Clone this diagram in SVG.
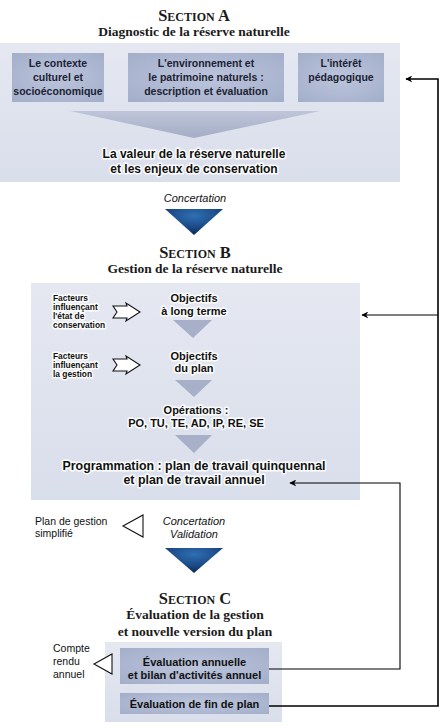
<svg xmlns="http://www.w3.org/2000/svg" width="442" height="728" viewBox="0 0 442 728">
<defs>
<linearGradient id="panel" x1="0" y1="0" x2="0" y2="1">
<stop offset="0" stop-color="#e5e8f1"/><stop offset="1" stop-color="#d9deeb"/>
</linearGradient>
<radialGradient id="box" cx="0.5" cy="0.5" r="0.7">
<stop offset="0" stop-color="#bcc5dc"/><stop offset="1" stop-color="#a3aeca"/>
</radialGradient>
<linearGradient id="bigtri" x1="0" y1="0" x2="0" y2="1">
<stop offset="0" stop-color="#bfc6da"/><stop offset="1" stop-color="#a4adc6"/>
</linearGradient>
<radialGradient id="dark" cx="0.5" cy="0.25" r="0.75">
<stop offset="0" stop-color="#2f6fb4"/><stop offset="0.6" stop-color="#1b4a86"/><stop offset="1" stop-color="#0d2550"/>
</radialGradient>
<marker id="ah" viewBox="0 0 10 10" refX="9" refY="5" markerWidth="7" markerHeight="7" orient="auto" markerUnits="userSpaceOnUse">
<path d="M0,0 L10,5 L0,10 L3,5 z" fill="#000"/>
</marker>
</defs>
<style>
.sec{font-family:"Liberation Serif",serif;font-weight:bold;font-variant:small-caps;font-size:16.5px;fill:#1a1a1a;text-anchor:middle}
.sub{font-family:"Liberation Serif",serif;font-weight:bold;font-size:13.5px;fill:#1a1a1a;text-anchor:middle}
.bx{font-family:"Liberation Sans",Arial,sans-serif;font-weight:bold;font-size:10.5px;fill:#1c2233;text-anchor:middle}
.big{font-family:"Liberation Sans",Arial,sans-serif;font-weight:bold;font-size:12px;fill:#111;text-anchor:middle}
.mid{font-family:"Liberation Sans",Arial,sans-serif;font-weight:bold;font-size:11px;fill:#111;text-anchor:middle}
.tiny{font-family:"Liberation Sans",Arial,sans-serif;font-weight:bold;font-size:8.4px;fill:#111}
.it{font-family:"Liberation Sans",Arial,sans-serif;font-style:italic;font-size:11px;fill:#111;text-anchor:middle}
.sm{font-family:"Liberation Sans",Arial,sans-serif;font-size:10.5px;fill:#111}
.halo{stroke:#ffffff;stroke-width:3.2;stroke-linejoin:round;stroke-opacity:0.9;paint-order:stroke}
.panel{fill:url(#panel)}
.box{fill:url(#box)}
.ltri{fill:#a7b0c8}
.dtri{fill:url(#dark)}
.hol{fill:#fff;stroke:#111;stroke-width:1.1}
.conn{fill:none;stroke:#000}
</style>

<g id="sectionA">
<text class="sec" x="194" y="21">Section A</text>
<text class="sub" x="194" y="36">Diagnostic de la réserve naturelle</text>
<rect class="panel" x="0" y="43" width="400" height="139"/>
<g id="boxA1">
<rect class="box" x="12" y="53" width="92" height="49"/>
<text class="bx" x="58" y="67">Le contexte</text>
<text class="bx" x="58" y="81">culturel et</text>
<text class="bx" x="58" y="95">socioéconomique</text>
</g>
<g id="boxA2">
<rect class="box" x="128" y="53" width="156" height="49"/>
<text class="bx" x="206" y="67">L'environnement et</text>
<text class="bx" x="206" y="81">le patrimoine naturels :</text>
<text class="bx" x="206" y="95">description et évaluation</text>
</g>
<g id="boxA3">
<rect class="box" x="298" y="53" width="86" height="49"/>
<text class="bx" x="341" y="67">L'intérêt</text>
<text class="bx" x="341" y="81">pédagogique</text>
</g>
<polygon fill="url(#bigtri)" points="70,111 320,111 194,138"/>
<g id="valeur">
<text class="big halo" x="194" y="158">La valeur de la réserve naturelle</text>
<text class="big halo" x="194" y="173">et les enjeux de conservation</text>
</g>
</g>

<g id="concertation1">
<text class="it" x="195" y="202">Concertation</text>
<polygon class="dtri" points="165,209 223,209 194,235"/>
</g>

<g id="sectionB">
<text class="sec" x="195" y="258">Section B</text>
<text class="sub" x="195" y="273">Gestion de la réserve naturelle</text>
<rect class="panel" x="31" y="283" width="329" height="217"/>
<g id="facteurs1">
<text class="tiny halo" x="53" y="301">Facteurs</text>
<text class="tiny halo" x="53" y="310">influençant</text>
<text class="tiny halo" x="53" y="319">l'état de</text>
<text class="tiny halo" x="53" y="328">conservation</text>
</g>
<g id="facteurs2">
<text class="tiny halo" x="53" y="359">Facteurs</text>
<text class="tiny halo" x="53" y="368">influençant</text>
<text class="tiny halo" x="53" y="377">la gestion</text>
</g>
<g id="objLT">
<text class="mid halo" x="194" y="302">Objectifs</text>
<text class="mid halo" x="194" y="315">à long terme</text>
</g>
<g id="objPlan">
<text class="mid halo" x="194" y="360">Objectifs</text>
<text class="mid halo" x="194" y="372">du plan</text>
</g>
<g id="operations">
<text class="mid halo" x="196" y="414">Opérations :</text>
<text class="mid halo" x="196" y="427">PO, TU, TE, AD, IP, RE, SE</text>
</g>
<g id="programmation">
<text class="big halo" x="194" y="470" style="font-size:12.4px">Programmation : plan de travail quinquennal</text>
<text class="big halo" x="194" y="484" style="font-size:12.4px">et plan de travail annuel</text>
</g>
<polygon class="hol" points="113,306 127,306 126,303 140,312 126,321 127,318 113,318 117,312"/>
<polygon class="hol" points="113,359 127,359 126,356 140,365 126,374 127,371 113,371 117,365"/>
<polygon class="ltri" points="173,320 212,320 193,338"/>
<polygon class="ltri" points="175,380 212,380 194,397"/>
<polygon class="ltri" points="175,435 212,435 194,453"/>
</g>

<g id="concertation2">
<text class="sm" x="35" y="525">Plan de gestion</text>
<text class="sm" x="35" y="537">simplifié</text>
<polygon class="hol" points="143,515 143,537 123,526"/>
<text class="it" x="194" y="525">Concertation</text>
<text class="it" x="194" y="538">Validation</text>
<polygon class="dtri" points="165,548 223,548 194,573"/>
</g>

<g id="sectionC">
<text class="sec" x="195" y="604">Section C</text>
<text class="sub" x="195" y="619">Évaluation de la gestion</text>
<text class="sub" x="195" y="636">et nouvelle version du plan</text>
<rect class="panel" x="105" y="642" width="177" height="80"/>
<g id="evalAnnuelle">
<rect class="box" x="120" y="648" width="149" height="36"/>
<text class="mid" x="194.5" y="666">Évaluation annuelle</text>
<text class="mid" x="194.5" y="679">et bilan d'activités annuel</text>
</g>
<g id="evalFin">
<rect class="box" x="120" y="693" width="149" height="21"/>
<text class="mid" x="194.5" y="708">Évaluation de fin de plan</text>
</g>
<text class="sm" x="53" y="652">Compte</text>
<text class="sm" x="53" y="665">rendu</text>
<text class="sm" x="53" y="678">annuel</text>
<polygon class="hol" points="112,654 112,674 94,664"/>
</g>

<g id="connectors">
<path class="conn" stroke-width="1.6" d="M269,706 H438 V79 H406" marker-end="url(#ah)"/>
<path class="conn" stroke-width="1.2" d="M438,315 H362" marker-end="url(#ah)"/>
<path class="conn" stroke-width="1.1" d="M269,669 H400 V483 H290" marker-end="url(#ah)"/>
</g>
</svg>
